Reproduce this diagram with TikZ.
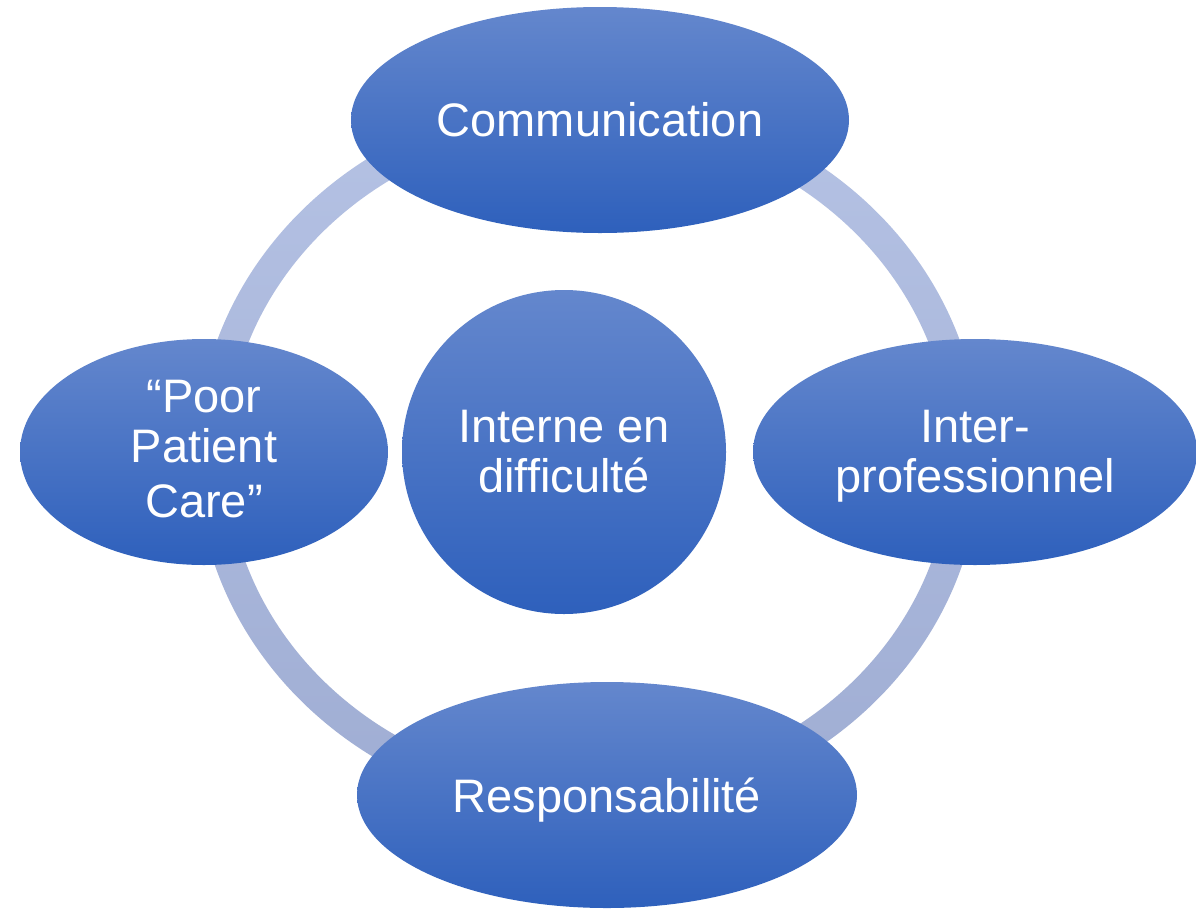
\documentclass[tikz,border=0pt]{standalone}
\usepackage{fontspec}
\setmainfont{Liberation Sans}
\usetikzlibrary{shapes.geometric}
\definecolor{blobtop}{HTML}{6487CD}
\definecolor{blobbot}{HTML}{2E60BC}
\definecolor{ringtop}{HTML}{B5C2E4}
\definecolor{ringbot}{HTML}{9FADD3}
\newcommand{\blobtext}[2]{\raisebox{-#1pt}[0pt][0pt]{\begin{tabular}[b]{@{}c@{}}#2\end{tabular}}}
\tikzset{
  blob/.style={ellipse, inner sep=0pt, top color=blobtop, bottom color=blobbot,
    draw=none, text=white, align=center,
    font=\fontsize{47pt}{50pt}\selectfont},
  ringshade/.style={top color=ringtop, bottom color=ringbot, even odd rule}
}
\begin{document}
\begin{tikzpicture}[x=1pt,y=-1pt]
\useasboundingbox (0,0) rectangle (1196,908);
\fill[white] (0,0) rectangle (1196,908);
% ring
\shade[ringshade] (588.5,456) ellipse [x radius=392pt, y radius=360pt]
                  (588.5,456) ellipse [x radius=362pt, y radius=330pt];
% nodes
\node[blob, minimum width=498pt, minimum height=226pt] (comm) at (600,120)
  {\blobtext{16}{Communication}};
\node[blob, minimum width=444pt, minimum height=226pt] (inter) at (975,452)
  {\blobtext{40}{Inter-\\professionnel}};
\node[blob, minimum width=500pt, minimum height=226pt] (resp) at (607,795)
  {\blobtext{17}{Responsabilité}};
\node[blob, minimum width=368pt, minimum height=226pt] (poor) at (204,452)
  {\blobtext{65}{“Poor\\Patient\\[5pt]Care”}};
\node[blob, circle, minimum size=324pt] (center) at (564,452)
  {\blobtext{40}{Interne en\\difficulté}};
\end{tikzpicture}
\end{document}
